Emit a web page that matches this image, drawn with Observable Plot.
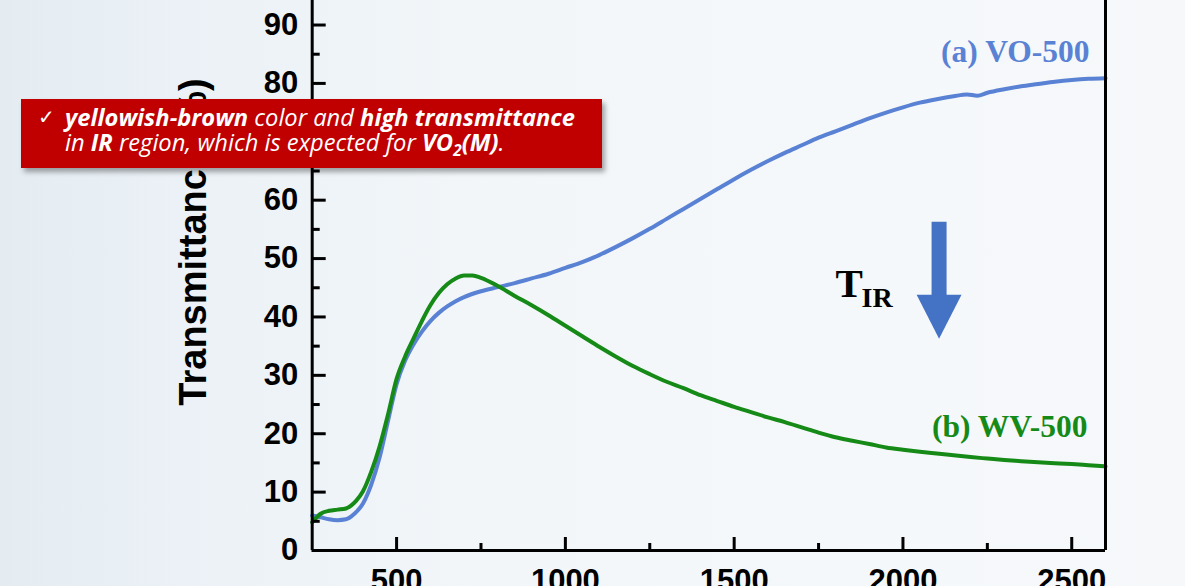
<!DOCTYPE html>
<html>
<head>
<meta charset="utf-8">
<script src="https://cdn.jsdelivr.net/npm/d3@7"></script>
<script src="https://cdn.jsdelivr.net/npm/@observablehq/plot@0.6"></script>
<style>
html, body { margin: 0; padding: 0; width: 1185px; height: 586px; overflow: hidden; }
body {
  position: relative;
  background: linear-gradient(to right, #e4ecf2 0%, #ebf1f6 15%, #f2f6f9 40%, #f5f8fa 70%, #f6f8fa 100%);
}
#chart { position: absolute; left: 0; top: 0; }
#note {
  position: absolute; left: 21px; top: 99px; width: 581px; height: 69px;
  background: #c00000; box-shadow: 3px 4px 5px rgba(0,0,0,0.35);
  color: #fff; font-family: "Open Sans", "Noto Sans", sans-serif; font-style: italic; font-size: 23.7px;
}
#note .ln { position: absolute; display: block; white-space: nowrap; height: 25px; line-height: 25px; }
#note b { font-weight: 700; }
#note sub { font-size: 0.65em; vertical-align: -0.3em; line-height: 0; }
#note .chk { position: absolute; display: block; left: 17px; top: 7px; width: 18px; height: 22px; line-height: 22px; font-style: normal; font-size: 20px; font-family: "DejaVu Sans", sans-serif; }
</style>
</head>
<body>
<div id="chart"></div>
<div id="note">
  <span class="chk">✓</span>
  <span class="ln" style="left:44px; top:6px;"><b>yellowish-brown</b> color and <b>high transmittance</b></span>
  <span class="ln" style="left:44px; top:31px;">in <b>IR</b> region, which is expected for <b>VO<sub>2</sub>(M)</b>.</span>
</div>
<script>
// Wavelength (nm) and transmittance (%) for VO-500
const voWavelength = [250,275,300,325,350,375,400,425,450,475,500,525,550,575,600,625,650,675,700,750,800,850,900,950,1000,1050,1100,1150,1200,1250,1300,1350,1400,1450,1500,1550,1600,1650,1700,1750,1800,1850,1900,1950,2000,2050,2100,2150,2190,2220,2250,2300,2350,2400,2450,2500,2550,2600];
const voTransmittance = [6.0,5.7,5.35,5.2,5.35,6.3,8.0,11.3,16.0,22.3,28.5,32.5,35.3,37.5,39.3,40.7,41.8,42.7,43.4,44.4,45.1,45.8,46.6,47.4,48.4,49.4,50.6,52.0,53.5,55.1,56.8,58.5,60.2,61.9,63.6,65.2,66.7,68.1,69.4,70.7,71.8,72.9,74.0,75.0,75.9,76.7,77.3,77.8,78.1,77.9,78.4,79.0,79.5,79.9,80.3,80.6,80.8,80.9];

// Wavelength (nm) and transmittance (%) for WV-500
const wvWavelength = [250,275,300,325,350,365,380,400,425,450,475,500,525,550,575,600,625,650,675,700,725,750,800,850,900,950,1000,1050,1100,1150,1200,1250,1300,1350,1400,1450,1500,1550,1600,1650,1700,1750,1800,1850,1900,1950,2000,2050,2100,2150,2200,2250,2300,2350,2400,2450,2500,2550,2600];
const wvTransmittance = [4.85,6.3,6.8,7.0,7.2,7.7,8.5,10.1,13.5,17.9,23.4,29.4,33.2,36.3,39.3,42.0,44.1,45.6,46.6,47.1,47.1,46.7,45.3,43.6,42.0,40.3,38.5,36.7,34.9,33.2,31.6,30.2,28.9,27.8,26.6,25.6,24.6,23.7,22.8,22.0,21.1,20.2,19.4,18.8,18.25,17.65,17.25,16.9,16.6,16.3,16.0,15.75,15.5,15.3,15.1,14.95,14.8,14.6,14.4];

const seriesNames = ["(a) VO-500", "(b) WV-500"];
const xMajorTicks = [500, 1000, 1500, 2000, 2500];
const xMinorTicks = [750, 1250, 1750, 2250];
const yMajorTicks = [0, 10, 20, 30, 40, 50, 60, 70, 80, 90];
const yMinorTicks = [5, 15, 25, 35, 45, 55, 65, 75, 85];
const yTitle = "Transmittance (%)";

// annotation arrow (data space)
const arrowShaft = [{x: 2107, y1: 56.2, y2: 42.8}];
const arrowHead = [{x: 2107, y: 43.8}];

const voData = voWavelength.map((w, i) => ({w, t: voTransmittance[i]}));
const wvData = wvWavelength.map((w, i) => ({w, t: wvTransmittance[i]}));

const W = 1185, H = 586, ML = 311.7, MR = 80, MT = 0, MB = 36;
const plotW = W - ML - MR, plotH = H - MT - MB;
const blue = "#5a82d4", green = "#168a17", arrowBlue = "#4472c4";
const serif = "'Liberation Serif', 'Times New Roman', serif";

const downTriangle = {
  draw(ctx, size) {
    const k = Math.sqrt(size / Math.PI);
    ctx.moveTo(-k * 1.02, 0);
    ctx.lineTo(k * 1.02, 0);
    ctx.lineTo(0, k * 2);
    ctx.closePath();
  }
};

const chart = Plot.plot({
  width: W, height: H,
  marginLeft: ML, marginRight: MR, marginTop: MT, marginBottom: MB,
  x: {domain: [250, 2600], ticks: xMajorTicks, tickSize: 0, tickPadding: 18, tickFormat: d3.format("d"), label: null},
  y: {domain: [0, 94.2], ticks: yMajorTicks, tickSize: 0, tickPadding: 14, tickFormat: d3.format("d"), label: null},
  style: {background: "transparent", fontFamily: "'Liberation Sans', Arial, sans-serif", fontSize: "31px", fontWeight: "bold", color: "black", overflow: "visible"},
  marks: [
    Plot.line(voData, {x: "w", y: "t", stroke: blue, strokeWidth: 4, curve: "monotone-x"}),
    Plot.line(wvData, {x: "w", y: "t", stroke: green, strokeWidth: 4, curve: "monotone-x"}),
    Plot.ruleX([250, 2600], {stroke: "black", strokeWidth: 3}),
    Plot.ruleY([0], {stroke: "black", strokeWidth: 3}),
    Plot.tickX(xMajorTicks, {x: d => d, insetTop: plotH - 13, stroke: "black", strokeWidth: 3}),
    Plot.tickX(xMinorTicks, {x: d => d, insetTop: plotH - 7, stroke: "black", strokeWidth: 3}),
    Plot.tickY(yMajorTicks, {y: d => d, insetRight: plotW - 14, stroke: "black", strokeWidth: 3}),
    Plot.tickY(yMinorTicks, {y: d => d, insetRight: plotW - 8, stroke: "black", strokeWidth: 3}),
    Plot.text([yTitle], {frameAnchor: "left", textAnchor: "middle", lineAnchor: "middle", rotate: -90, dx: -118.7, dy: -33.5, fontSize: 38, fontWeight: "bold", fill: "black"}),
    Plot.text([seriesNames[0]], {frameAnchor: "top-right", textAnchor: "end", lineAnchor: "bottom", dx: -16, dy: 61.7, fontFamily: serif, fontSize: 31.5, fontWeight: "bold", fill: blue}),
    Plot.text([seriesNames[1]], {frameAnchor: "top-right", textAnchor: "end", lineAnchor: "bottom", dx: -18, dy: 436, fontFamily: serif, fontSize: 31.5, fontWeight: "bold", fill: green}),
    Plot.text(["T"], {frameAnchor: "top-left", textAnchor: "start", lineAnchor: "bottom", dx: 835 - ML, dy: 296.7, fontFamily: serif, fontSize: 41, fontWeight: "bold", fill: "black"}),
    Plot.text(["IR"], {frameAnchor: "top-left", textAnchor: "start", lineAnchor: "bottom", dx: 861 - ML, dy: 306, fontFamily: serif, fontSize: 28, fontWeight: "bold", fill: "black"}),
    Plot.ruleX(arrowShaft, {x: "x", y1: "y1", y2: "y2", stroke: arrowBlue, strokeWidth: 15}),
    Plot.dot(arrowHead, {x: "x", y: "y", symbol: downTriangle, r: 22, fill: arrowBlue, stroke: "none"})
  ]
});
document.getElementById("chart").appendChild(chart);
</script>
</body>
</html>
